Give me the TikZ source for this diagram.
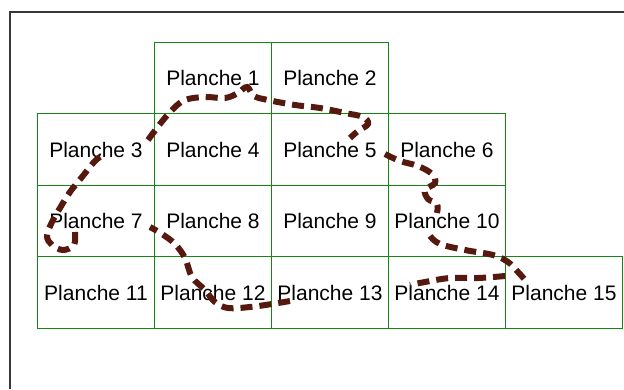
\documentclass[tikz,border=0pt]{standalone}
\usepackage{fontspec}
\setmainfont{Liberation Sans}
\usepackage{xcolor}
\usepackage{tikz}
\usetikzlibrary{positioning, calc}
\definecolor{grille}{RGB}{20,135,20}
\definecolor{trajet}{RGB}{85,25,15}
\definecolor{cadre}{RGB}{55,55,55}

\begin{document}
\begin{tikzpicture}[x=1pt, y=-1pt, node distance=0pt,
    planche/.style={draw=grille, line width=1.3pt, minimum width=117pt, minimum height=71.5pt,
        inner sep=0pt, outer sep=0pt, font=\fontsize{21}{24}\selectfont},
    route/.style={draw=trajet, line width=6pt, dash pattern=on 12pt off 7pt},
    cadre/.style={draw=cadre, line width=2pt}]
\useasboundingbox (0,0) rectangle (624,389);

% Frame
\draw[cadre] (10,389) -- (10,12) -- (624,12);

% Row 1
\node[planche] (p1) at (213,78) {Planche 1};
\node[planche, right=of p1] (p2) {Planche 2};

% Row 2
\node[planche, below=of p1] (p4) {Planche 4};
\node[planche, left=of p4] (p3) {Planche 3};
\node[planche, right=of p4] (p5) {Planche 5};
\node[planche, right=of p5] (p6) {Planche 6};

% Row 3
\node[planche, below=of p4] (p8) {Planche 8};
\node[planche, left=of p8] (p7) {Planche 7};
\node[planche, right=of p8] (p9) {Planche 9};
\node[planche, right=of p9] (p10) {Planche 10};

% Row 4
\node[planche, below=of p8] (p12) {Planche 12};
\node[planche, left=of p12] (p11) {Planche 11};
\node[planche, right=of p12] (p13) {Planche 13};
\node[planche, right=of p13] (p14) {Planche 14};
\node[planche, right=of p14] (p15) {Planche 15};

% Route (hand drawn)
\draw[route] plot[smooth, tension=0.6] coordinates {(148,140) (160,124) (172,110) (185,100) (205,97)
    (225,98) (238,93) (247,87) (254,96) (268,100) (295,105) (320,108) (345,113) (363,117)
    (368,124) (358,131) (350,138)};
\draw[route] plot[smooth, tension=0.6] coordinates {(385,154) (400,161) (418,166) (432,174)
    (435,183) (425,190) (428,199) (437,204) (437,213)};
\draw[route] plot[smooth, tension=0.6] coordinates {(430,236) (440,244) (465,250) (493,255)
    (508,262) (518,272) (526,281)};
\draw[route] plot[smooth, tension=0.6] coordinates {(505,276) (478,278) (450,278) (425,282) (410,285)};
\draw[route] plot[smooth, tension=0.6] coordinates {(290,301) (272,304) (250,307) (228,308)
    (215,302) (205,290) (192,277) (185,258) (175,244) (162,234) (150,227)};
\draw[route] plot[smooth, tension=0.6] coordinates {(75,232) (74,245) (63,250) (52,245) (47,236)
    (52,222) (60,208) (70,192) (82,177) (95,161) (102,156)};

\end{tikzpicture}
\end{document}
